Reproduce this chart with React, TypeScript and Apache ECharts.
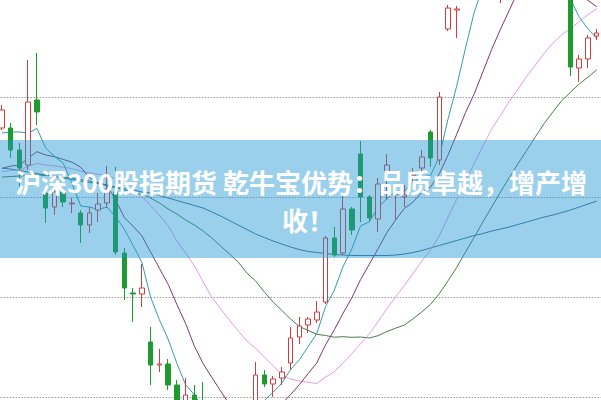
import React, { useEffect, useRef } from "react";
import * as echarts from "echarts";

// K-line data: [open, close, lowest, highest]
const ohlc: number[][] = [
  [3969, 3987, 3967, 3992], [3969, 3947, 3939, 3974], [3947, 3929, 3907, 3954], [3932, 3995, 3927, 4037],
  [3997, 3985, 3972, 4044], [3904, 3889, 3874, 3909], [3890, 3905, 3882, 3910], [3905, 3895, 3890, 3909],
  [3893, 3894, 3884, 3899], [3884, 3872, 3854, 3887], [3872, 3884, 3864, 3890], [3887, 3893, 3875, 3904],
  [3894, 3907, 3889, 3931], [3905, 3845, 3842, 3930], [3844, 3809, 3797, 3849], [3804, 3803, 3775, 3809],
  [3803, 3809, 3790, 3833], [3755, 3732, 3712, 3770], [3732, 3733, 3725, 3748], [3733, 3712, 3707, 3738],
  [3712, 3682, 3672, 3717], [3677, 3702, 3669, 3719], [3702, 3682, 3675, 3712], [3695, 3669, 3657, 3715],
  [3667, 3672, 3652, 3687], [3675, 3667, 3655, 3689], [3665, 3677, 3657, 3685], [3672, 3679, 3665, 3692],
  [3677, 3692, 3669, 3695], [3687, 3722, 3682, 3735], [3722, 3713, 3710, 3727], [3713, 3718, 3700, 3721],
  [3719, 3725, 3712, 3730], [3734, 3759, 3727, 3770], [3760, 3771, 3753, 3780], [3772, 3778, 3764, 3780],
  [3777, 3785, 3774, 3796], [3795, 3859, 3793, 3861], [3859, 3842, 3840, 3870], [3844, 3888, 3842, 3904],
  [3888, 3867, 3862, 3890], [3943, 3900, 3875, 3956], [3900, 3879, 3875, 3902], [3878, 3913, 3865, 3919],
  [3924, 3932, 3897, 3943], [3902, 3904, 3877, 3912], [3900, 3902, 3890, 3912], [3920, 3922, 3915, 3929],
  [3929, 3940, 3917, 3947], [3965, 3939, 3930, 3967], [3937, 4000, 3932, 4005], [4068, 4089, 4066, 4092],
  [4087, 4088, 4059, 4091], [4112, 4129, 4105, 4137], [4127, 4119, 4112, 4142], [4122, 4127, 4109, 4139],
  [4129, 4125, 4115, 4147], [4115, 4123, 4094, 4135], [4119, 4127, 4107, 4145], [4125, 4132, 4112, 4149],
  [4132, 4122, 4109, 4152], [4123, 4127, 4107, 4142], [4127, 4117, 4105, 4139], [4119, 4112, 4102, 4132],
  [4112, 4102, 4101, 4122], [4127, 4030, 4021, 4137], [4029, 4038, 4015, 4042], [4038, 4059, 4029, 4062],
  [4061, 4064, 4057, 4068],
];

const ma5: number[] = [
  3964, 3965, 3965, 3964, 3968.6, 3949, 3940.6, 3933.8, 3913.6, 3891, 3890, 3887.6, 3890, 3880.2, 3867.6,
  3851.4, 3834.6, 3799.6, 3777.2, 3757.8, 3733.6, 3712.2, 3702.2, 3689.4, 3681.4, 3678.4, 3673.4, 3672.8,
  3677.4, 3687.4, 3696.6, 3704.8, 3714, 3727.4, 3737.2, 3750.2, 3763.6, 3790.4, 3807, 3830.4, 3848.2,
  3871.2, 3875.2, 3889.4, 3898.2, 3905.6, 3906, 3914.6, 3920, 3921.4, 3940.6, 3978, 4011.2, 4049, 4085,
  4110.4, 4117.6, 4124.6, 4124.2, 4126.8, 4125.8, 4126.2, 4125, 4122, 4116, 4097.6, 4079.8, 4068.2, 4058.6,
];

const ma10: number[] = [
  3928.5, 3931, 3931.7, 3939, 3945.3, 3942, 3940.3, 3937.6, 3934.8, 3929.8, 3919.5, 3914.1, 3911.9, 3896.9,
  3879.3, 3870.7, 3861.1, 3844.8, 3828.7, 3812.7, 3792.5, 3773.4, 3750.9, 3733.3, 3719.6, 3706, 3692.8,
  3687.5, 3683.4, 3684.4, 3687.5, 3689.1, 3693.4, 3702.4, 3712.3, 3723.4, 3734.2, 3752.2, 3767.2, 3783.8,
  3799.2, 3817.4, 3832.8, 3848.2, 3864.3, 3876.9, 3888.6, 3894.9, 3904.7, 3909.8, 3923.1, 3942, 3962.9,
  3984.5, 4003.2, 4025.5, 4047.8, 4067.9, 4086.6, 4105.9, 4118.1, 4121.9, 4124.8, 4123.1, 4121.4, 4111.7,
  4103, 4096.6, 4090.3,
];

const ma20: number[] = [
  3925.3, 3926.5, 3926.9, 3930.5, 3933.7, 3932, 3931.2, 3929.8, 3928.4, 3925.9, 3924, 3922.6, 3921.8, 3918,
  3912.3, 3906.4, 3900.7, 3891.2, 3881.8, 3871.3, 3856, 3843.8, 3831.4, 3815.1, 3799.5, 3788.4, 3777,
  3766.2, 3756.1, 3748.6, 3740, 3731.3, 3722.2, 3717.9, 3716, 3714.7, 3713.5, 3719.9, 3725.3, 3734.1,
  3743.4, 3753.3, 3763.1, 3775.3, 3788.3, 3800.2, 3811.4, 3823.6, 3836, 3846.8, 3861.2, 3879.7, 3897.9,
  3916.4, 3933.8, 3951.2, 3968.2, 3981.4, 3995.7, 4007.9, 4020.6, 4032, 4043.9, 4053.8, 4062.3, 4068.6,
  4075.4, 4082.3, 4088.5,
];

const ma30: number[] = [
  3920, 3920.5, 3921, 3921.5, 3922, 3921.5, 3921, 3920, 3919, 3917.5, 3916, 3914, 3911.5, 3909, 3907, 3905,
  3903, 3899, 3894, 3888, 3883, 3877, 3872, 3866, 3859, 3851, 3843, 3835, 3824, 3816, 3805, 3795, 3786.5,
  3778, 3770.4, 3766.7, 3762.7, 3761.5, 3759.8, 3760.3, 3759.7, 3760, 3759, 3761.3, 3765.4, 3768.8, 3771.9,
  3778.2, 3785.1, 3792.7, 3803.3, 3816.2, 3829.7, 3845, 3859.9, 3875.3, 3890.2, 3905, 3919.5, 3933.2,
  3946.8, 3960.4, 3973.5, 3985.3, 3996.3, 4004.7, 4013.1, 4019.8, 4027.2,
];

const ma60: number[] = [
  3929, 3928, 3926.5, 3925, 3923.5, 3922, 3920.5, 3919, 3917.5, 3916, 3914.5, 3913.5, 3912, 3910, 3908.5,
  3907, 3905, 3904, 3901.5, 3899, 3896.5, 3894, 3891.5, 3889, 3885, 3881, 3876.5, 3872, 3867.5, 3863,
  3859.5, 3856, 3853, 3850, 3847.5, 3845.5, 3844.5, 3843.5, 3842.5, 3842, 3841.5, 3841.5, 3841.5, 3841.5,
  3841.5, 3842, 3843, 3844.5, 3846.5, 3849, 3851.5, 3854, 3856.5, 3859, 3861.5, 3863.5, 3866, 3868, 3870,
  3872.5, 3875, 3877.5, 3880, 3882, 3884.5, 3887, 3890, 3893, 3896,
];

const categories: string[] = ohlc.map((_, i) => `K${i + 1}`);

const titleLine1 = "沪深300股指期货 乾牛宝优势：品质卓越，增产增";
const titleLine2 = "收！";

const COLOR_UP = "#d23c3c";
const COLOR_DOWN = "#1f9a2f";

export default function App() {
  const ref = useRef<HTMLDivElement>(null);
  useEffect(() => {
    if (!ref.current) return;
    const chart = echarts.init(ref.current, undefined, { renderer: "svg" });
    const maLine = (name: string, data: number[], color: string) => ({
      name,
      type: "line",
      data,
      showSymbol: false,
      symbol: "none",
      smooth: false,
      clip: true,
      lineStyle: { color, width: 1 },
      z: 3,
    });
    chart.setOption({
      animation: false,
      backgroundColor: "#ffffff",
      grid: { left: 7.6, right: 0.9, top: 7, bottom: 13, containLabel: false },
      xAxis: {
        type: "category",
        data: categories,
        boundaryGap: true,
        axisLine: { show: false },
        axisTick: { show: false },
        axisLabel: { show: false },
        splitLine: { show: false },
      },
      yAxis: {
        type: "value",
        min: 3600,
        max: 4200,
        interval: 100,
        axisLine: { show: false },
        axisTick: { show: false },
        axisLabel: { show: false },
        splitLine: { show: true, lineStyle: { color: "#9a9a9a", width: 1, type: [1.5, 1.5] } },
      },
      series: [
        maLine("MA60", ma60, "#3d6f8a"),
        maLine("MA30", ma30, "#4a7c4a"),
        maLine("MA20", ma20, "#e39be3"),
        maLine("MA10", ma10, "#7a3a6e"),
        maLine("MA5", ma5, "#30a0a8"),
        {
          name: "K",
          type: "candlestick",
          data: ohlc,
          barWidth: 5,
          clip: true,
          z: 4,
          itemStyle: {
            color: "#ffffff",
            color0: COLOR_DOWN,
            borderColor: COLOR_UP,
            borderColor0: COLOR_DOWN,
            borderWidth: 1,
          },
        },
      ],
      graphic: [
        {
          type: "rect",
          z: 100,
          shape: { x: 10, y: 250, width: 602, height: 118 },
          style: { fill: "rgba(30,150,210,0.45)" },
          silent: true,
        },
        {
          type: "text",
          z: 101,
          x: 311,
          y: 291,
          style: {
            text: titleLine1,
            fill: "#ffffff",
            fontSize: 26,
            fontWeight: "bold",
            fontFamily: '"Noto Sans CJK SC", sans-serif',
            textAlign: "center",
            textVerticalAlign: "middle",
          },
        },
        {
          type: "text",
          z: 101,
          x: 292,
          y: 329,
          style: {
            text: titleLine2,
            fill: "#ffffff",
            fontSize: 26,
            fontWeight: "bold",
            fontFamily: '"Noto Sans CJK SC", sans-serif',
            textAlign: "left",
            textVerticalAlign: "middle",
          },
        },
      ],
    });
    return () => chart.dispose();
  }, []);
  return (
    <div
      ref={ref}
      style={{ position: "fixed", left: -10, top: -110, width: 612, height: 620 }}
    />
  );
}
